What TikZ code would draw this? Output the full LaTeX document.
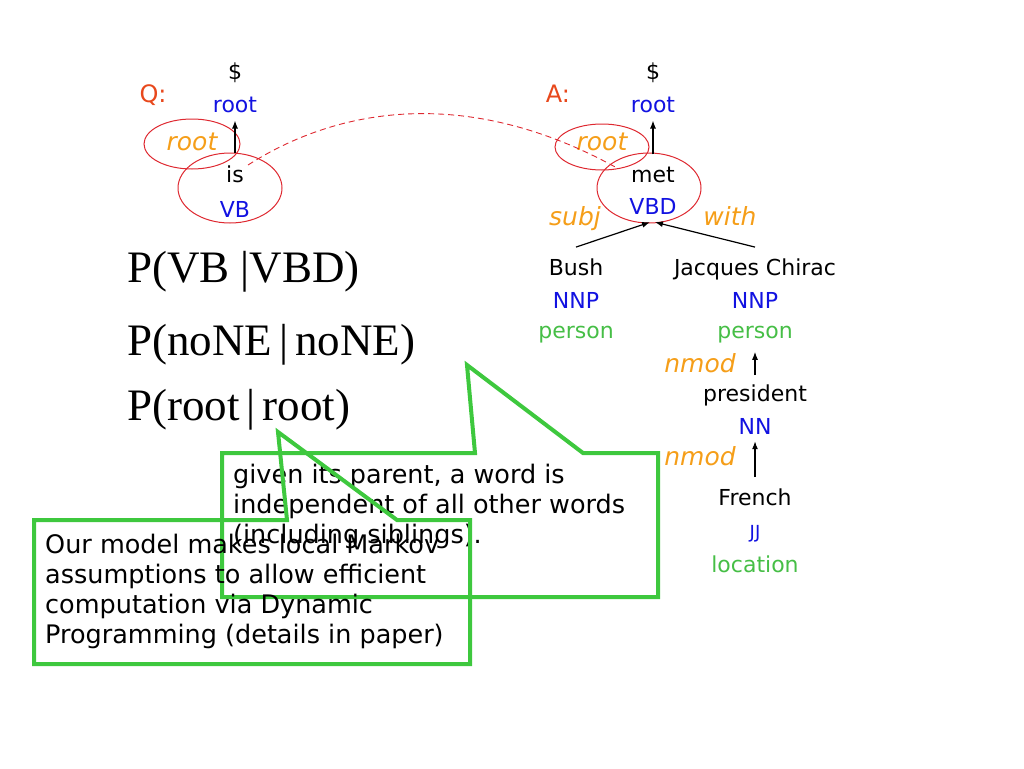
\documentclass[tikz,border=0pt]{standalone}
\usepackage{fontspec}
\setmainfont{DejaVu Sans}
\newfontfamily\probfont{Liberation Serif}
\usetikzlibrary{shapes.geometric,arrows.meta}
\definecolor{relorange}{RGB}{245,158,25}
\definecolor{markred}{RGB}{232,72,28}
\definecolor{tagblue}{RGB}{18,18,225}
\definecolor{semgreen}{RGB}{70,190,70}
\definecolor{ringred}{RGB}{222,40,48}
\definecolor{boxgreen}{RGB}{62,200,62}
\tikzset{
    lbl/.style={inner sep=2pt, anchor=base, font=\fontsize{22}{26}\selectfont},
    rel/.style={lbl, text=relorange, font=\fontsize{25}{30}\selectfont\itshape},
    qalabel/.style={lbl, text=markred, font=\fontsize{24}{28}\selectfont},
    ring/.style={draw=ringred, ellipse, line width=1pt, inner sep=0pt},
    balloon/.style={draw=boxgreen, line width=4pt, line join=miter},
    balloontext/.style={anchor=north west, inner sep=0pt, align=left,
        font=\fontsize{25.5}{30}\selectfont},
    prob/.style={anchor=base west, inner sep=0pt, font=\probfont\fontsize{45}{50}\selectfont},
    dep/.style={->, line width=1.2pt},
}
% word with its tag below it
\newcommand\WordTag[5]{%
    \node[lbl] (#1) at (#2,#3) {#4};
    \node[lbl, text=tagblue] (#1tag) at (#2,#3+33) {#5};
}

\begin{document}
\begin{tikzpicture}[x=1pt,y=-1pt,>={Latex[length=8pt,width=6pt]}]
    \useasboundingbox (0,0) rectangle (1024,768);
    % question
    \node[qalabel] (qmark) at (153,102) {Q:};
    \node[lbl] (qdollar) at (235,79) {\$};
    \node[lbl, text=tagblue] (qroot) at (235,112) {root};
    \node[rel] (qrel) at (192,150) {root};
    \node[lbl] (qis) at (235,182) {is};
    \node[lbl, text=tagblue] (qistag) at (235,217) {VB};
    \node[ring, minimum width=96pt, minimum height=50pt] (qrelring) at (192,144) {};
    \node[ring, minimum width=104pt, minimum height=70pt] (qisring) at (230,188) {};
    \draw[dep] ([yshift=10pt]qis.north) -- ([yshift=-6pt]qroot.south);
    % answer
    \node[qalabel] (amark) at (558,102) {A:};
    \node[lbl] (adollar) at (653,79) {\$};
    \node[lbl, text=tagblue] (aroot) at (653,112) {root};
    \node[rel] (arel) at (602,150) {root};
    \node[lbl] (amet) at (653,182) {met};
    \node[lbl, text=tagblue] (ametag) at (653,214) {VBD};
    \node[ring, minimum width=94pt, minimum height=46pt] (arelring) at (602,147) {};
    \node[ring, minimum width=104pt, minimum height=70pt] (ametring) at (649,188) {};
    \draw[dep] ([yshift=10pt]amet.north) -- ([yshift=-6pt]aroot.south);
    \node[rel] (asubj) at (575,225) {subj};
    \node[rel] (awith) at (730,225) {with};
    \WordTag{bush}{576}{275}{Bush}{NNP}
    \node[lbl, text=semgreen] (bushsem) at (576,338) {person};
    \WordTag{chirac}{755}{275}{Jacques Chirac}{NNP}
    \node[lbl, text=semgreen] (chiracsem) at (755,338) {person};
    \draw[dep] ([yshift=9pt]bush.north) -- ([shift={(-3pt,-6pt)}]ametag.south);
    \draw[dep] ([yshift=9pt]chirac.north) -- ([shift={(2pt,-6pt)}]ametag.south);
    \node[rel] (nmodpres) at (700,372) {nmod};
    \WordTag{pres}{755}{401}{president}{NN}
    \draw[dep] ([yshift=7pt]pres.north) -- ([yshift=-7pt]chiracsem.south);
    \node[rel] (nmodfr) at (700,465) {nmod};
    \node[lbl] (french) at (755,505) {French};
    \node[lbl, text=tagblue, font=\fontsize{18}{22}\selectfont] (frenchtag) at (755,538) {JJ};
    \node[lbl, text=semgreen] (frenchsem) at (755,572) {location};
    \draw[dep] ([yshift=9pt]french.north) -- ([yshift=-5pt]prestag.south);
    % matched words
    \coordinate (qlink) at (248,165);
    \coordinate (alink) at (617,168);
    \draw[ringred, line width=0.9pt, dash pattern=on 6pt off 4pt]
        (qlink) .. controls (350,100) and (480,92) .. (alink);
    % probabilities
    \node[prob] (pvb) at (127,282) {P(VB |VBD)};
    \node[prob] (pne) at (127,355) {P(noNE\kern7pt|\kern7pt noNE)};
    \node[prob] (proot) at (127,420) {P(root\kern7pt|\kern7pt root)};
    % callouts
    \draw[balloon] (222,453) -- (475,453) -- (467,365) -- (583,453) -- (658,453)
        -- (658,597) -- (222,597) -- cycle;
    \node[balloontext] (parenttext) at (233,464)
        {given its parent, a word is\\independent of all other words\\(including siblings).};
    \draw[balloon] (34,520) -- (287,520) -- (278,432) -- (397,520) -- (470,520)
        -- (470,664) -- (34,664) -- cycle;
    \node[balloontext] (markovtext) at (45,534)
        {Our model makes local Markov\\assumptions to allow efficient\\computation via Dynamic\\Programming (details in paper)};
\end{tikzpicture}
\end{document}
